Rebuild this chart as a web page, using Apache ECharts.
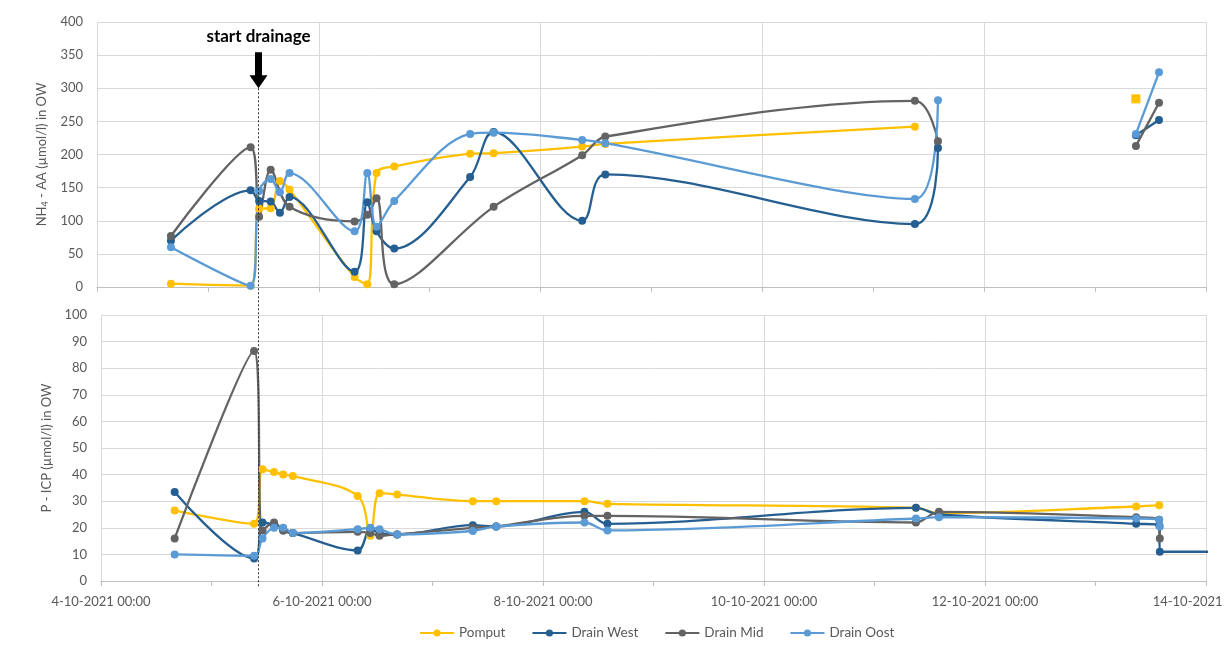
<!DOCTYPE html>
<html>
<head>
<meta charset="utf-8">
<title>NH4 / P drainage</title>
<script src="https://cdn.jsdelivr.net/npm/echarts@6/dist/echarts.min.js"></script>
<style>
  html, body { margin: 0; padding: 0; background: #fff; }
  #main { width: 1224px; height: 649px; }
</style>
</head>
<body>
<div id="main"></div>
<script>
// sample moments (day-month hh:mm, October 2021)
var times = ['4-10 16:00', '5-10 09:15', '5-10 11:05', '5-10 13:35', '5-10 15:35', '5-10 17:40',
             '6-10 07:45', '6-10 10:30', '6-10 12:30', '6-10 16:20', '7-10 08:45', '7-10 13:50',
             '8-10 09:00', '8-10 14:00', '11-10 09:00', '11-10 14:00', '13-10 08:50', '13-10 13:50',
             '13-10 13:58', '14-10 09:00'];

var seriesNames = ['Pomput', 'Drain West', 'Drain Mid', 'Drain Oost'];

// NH4 - AA (umol/l), null = not measured
var nh4Pomput = [5, 2, 118, 119, 160, 147, 15, 4, 172, 182, 201, 202, 212, 216, 242, null, 284, null, null, null];
var nh4West   = [70, 146, 130, 129, 112, 136, 23, 128, 84, 58, 166, 234, 100, 170, 95, 210, 229, 252, null, null];
var nh4Mid    = [77, 211, 106, 177, null, 121, 99, 109, 134, 4, null, 121, 199, 227, 281, 220, 213, 278, null, null];
var nh4Oost   = [60, 2, 145, 163, 143, 172, 84, 172, 91, 130, 231, 233, 222, 217, 133, 282, 231, 324, null, null];
var nh4Break  = '12-10 12:00'; // no line drawn across this moment in the upper chart

// P - ICP (umol/l)
var pPomput = [26.5, 21.5, 42, 41, 40, 39.5, 32, 17, 33, 32.5, 30, 30, 30, 29, 27.5, 25.5, 28, 28.5, null, null];
var pWest   = [33.5, 8.5, 22, 21, 19, 18, 11.5, 19.5, 18, 17.5, 21, 20.5, 26, 21.5, 27.5, 25, 21.5, 21, 11, 11];
var pMid    = [16, 86.5, 19, 22, 19, 18, 18.5, 18, 17, 17.5, 20, 20.5, 24.5, 24.5, 22, 26, 24, 23, 16, null];
var pOost   = [10, 9.5, 16, 20, 20, 18, 19.5, 20, 19.5, 17.5, 18.8, 20.5, 22, 19, 23.5, 24, 23.5, 23, 20.5, null];

var drainageStart = '5-10 10:50';

var colors = ['#FFC000', '#255E91', '#636363', '#5B9BD5'];
var font = 'Lato, "Open Sans", sans-serif';

// hours since 4-10-2021 00:00
function toHours(s) {
    var parts = s.split(' ');
    var day = parseInt(parts[0].split('-')[0], 10);
    var hm = parts[1].split(':');
    return (day - 4) * 24 + parseInt(hm[0], 10) + parseInt(hm[1], 10) / 60;
}

function buildData(vals, breakAt) {
    var pts = [];
    for (var i = 0; i < times.length; i++) {
        if (vals[i] != null) pts.push([toHours(times[i]), vals[i]]);
    }
    if (breakAt) {
        pts.push([toHours(breakAt), '-']);
        pts.sort(function (a, b) { return a[0] - b[0]; });
    }
    // a lonely point (no neighbour line) gets a square marker, like in excel
    return pts.map(function (p, i) {
        var prev = pts[i - 1], next = pts[i + 1];
        var lonely = p[1] !== '-' && (!prev || prev[1] === '-') && (!next || next[1] === '-');
        return lonely ? { value: p, symbol: 'rect', symbolSize: 9 } : p;
    });
}

function makeSeries(name, vals, idx, breakAt) {
    var ci = seriesNames.indexOf(name);
    return {
        name: name,
        type: 'line',
        xAxisIndex: idx,
        yAxisIndex: idx,
        smooth: 0.35,
        symbol: 'circle',
        symbolSize: 8,
        connectNulls: false,
        lineStyle: { width: 2.3, color: colors[ci] },
        itemStyle: { color: colors[ci] },
        emphasis: { disabled: true },
        data: buildData(vals, breakAt)
    };
}

function dateLabel(v) {
    return (4 + Math.round(v / 24)) + '-10-2021 00:00';
}

var xAxisBase = {
    type: 'value',
    min: 0,
    max: 240,
    interval: 48,
    axisLine: { show: true, lineStyle: { color: '#bfbfbf', width: 1 } },
    axisTick: { show: true, length: 5, lineStyle: { color: '#bfbfbf' } },
    minorTick: { show: true, splitNumber: 2, length: 5, lineStyle: { color: '#bfbfbf' } },
    splitLine: { show: true, lineStyle: { color: '#d9d9d9', width: 1 } }
};

var option = {
    animation: false,
    backgroundColor: '#fff',
    textStyle: { fontFamily: font },
    grid: [
        { left: 97, right: 18, top: 22, height: 265, outerBoundsMode: 'none', containLabel: false },
        { left: 101, right: 18, top: 315, height: 266, outerBoundsMode: 'none', containLabel: false }
    ],
    legend: {
        data: seriesNames,
        bottom: 4,
        left: 414,
        itemWidth: 34,
        itemHeight: 9,
        itemGap: 26,
        textStyle: { color: '#595959', fontSize: 13.5, fontFamily: font }
    },
    xAxis: [
        Object.assign({}, xAxisBase, { gridIndex: 0, axisLabel: { show: false } }),
        Object.assign({}, xAxisBase, {
            gridIndex: 1,
            axisLabel: { color: '#595959', fontSize: 13, margin: 14, formatter: dateLabel, hideOverlap: false, showMaxLabel: true, showMinLabel: true }
        })
    ],
    yAxis: [
        {
            type: 'value', gridIndex: 0, min: 0, max: 400, interval: 50,
            name: 'NH{sub|4} - AA (µmol/l) in OW',
            nameLocation: 'middle', nameRotate: 90, nameGap: 44,
            nameTextStyle: {
                color: '#595959', fontSize: 13, fontFamily: font,
                rich: { sub: { fontSize: 9, color: '#595959', fontFamily: font, verticalAlign: 'bottom', padding: [6, 0, 0, 0] } }
            },
            axisLine: { show: false },
            axisTick: { show: false },
            axisLabel: { color: '#595959', fontSize: 13, margin: 14 },
            splitLine: { lineStyle: { color: '#d9d9d9', width: 1 } }
        },
        {
            type: 'value', gridIndex: 1, min: 0, max: 100, interval: 10,
            name: 'P - ICP (µmol/l) in OW',
            nameLocation: 'middle', nameRotate: 90, nameGap: 46,
            nameTextStyle: { color: '#595959', fontSize: 13, fontFamily: font },
            axisLine: { show: false },
            axisTick: { show: false },
            axisLabel: { color: '#595959', fontSize: 13, margin: 14 },
            splitLine: { lineStyle: { color: '#d9d9d9', width: 1 } }
        }
    ],
    series: [
        makeSeries('Pomput', nh4Pomput, 0, nh4Break),
        makeSeries('Drain West', nh4West, 0, nh4Break),
        makeSeries('Drain Mid', nh4Mid, 0, nh4Break),
        makeSeries('Drain Oost', nh4Oost, 0, nh4Break),
        makeSeries('Pomput', pPomput, 1),
        makeSeries('Drain West', pWest, 1),
        makeSeries('Drain Mid', pMid, 1),
        makeSeries('Drain Oost', pOost, 1)
    ]
};

var chart = echarts.init(document.getElementById('main'), null, { renderer: 'canvas' });
chart.setOption(option);

// start drainage marker: text, arrow and dashed line through both panels
var dh = toHours(drainageStart);
var tip = chart.convertToPixel({ gridIndex: 0 }, [dh, 300]);
var bottomPt = chart.convertToPixel({ gridIndex: 1 }, [dh, 0]);
var x = Math.round(tip[0]) + 0.5;
chart.setOption({
    graphic: [
        {
            type: 'line',
            shape: { x1: x, y1: tip[1], x2: x, y2: bottomPt[1] + 6 },
            style: { stroke: '#333', lineWidth: 1, lineDash: [2, 2] },
            z: 100
        },
        {
            type: 'polygon',
            shape: {
                points: [
                    [x - 3.5, tip[1] - 36], [x + 3.5, tip[1] - 36], [x + 3.5, tip[1] - 13],
                    [x + 9, tip[1] - 13], [x, tip[1]], [x - 9, tip[1] - 13], [x - 3.5, tip[1] - 13]
                ]
            },
            style: { fill: '#000' },
            z: 100
        },
        {
            type: 'text',
            x: x,
            y: tip[1] - 52,
            style: {
                text: 'start drainage',
                fill: '#000',
                font: 'bold 17px ' + font,
                textAlign: 'center',
                textVerticalAlign: 'middle'
            },
            z: 100
        }
    ]
});
</script>
</body>
</html>
